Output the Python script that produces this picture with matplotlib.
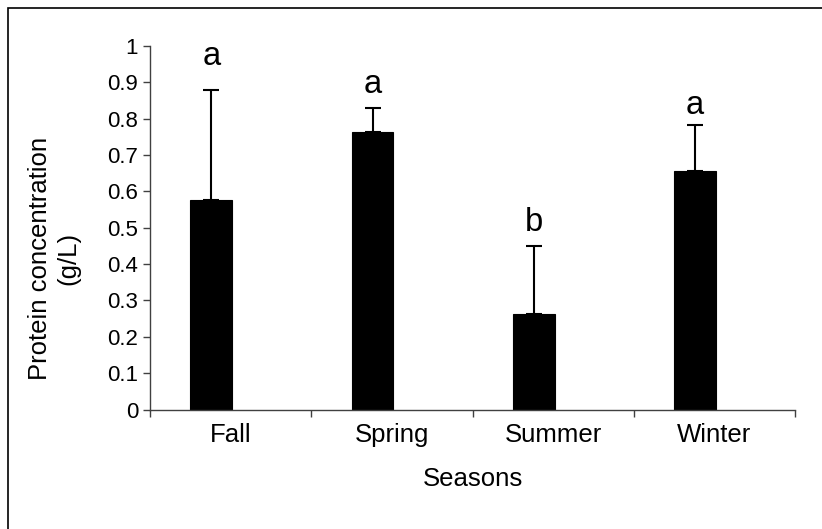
import matplotlib
matplotlib.use("Agg")
import matplotlib.pyplot as plt
from matplotlib.patches import Rectangle
import numpy as np

plt.rcParams["font.family"] = ["Liberation Sans", "DejaVu Sans"]

# datos
seasons = ["Fall", "Spring", "Summer", "Winter"]
protein = [0.577, 0.763, 0.263, 0.655]
err_up = [0.302, 0.066, 0.187, 0.127]
letters = ["a", "a", "b", "a"]
letter_y = [0.972, 0.893, 0.514, 0.836]

W, H = 822, 529
fig = plt.figure(figsize=(W / 100, H / 100), dpi=100)
ax = fig.add_axes([150 / W, 1 - 409.5 / H, 645 / W, 363.5 / H])

x = np.arange(len(seasons))
xb = x - 0.12
ax.bar(xb, protein, width=0.26, color="black", edgecolor="black", linewidth=0.8, zorder=2)
ax.errorbar(xb, protein, yerr=[np.zeros(len(err_up)), err_up], fmt="none",
            ecolor="black", elinewidth=1.5, capsize=5.8, capthick=1.5, zorder=1)
for xi, yi, t in zip(xb, letter_y, letters):
    ax.text(xi, yi, t, ha="center", va="center", fontsize=23.5)

ax.set_xlim(-0.5, 3.5)
ax.set_ylim(0, 1)
ax.set_yticks(np.arange(0, 1.01, 0.1))
ax.set_yticklabels(["0", "0.1", "0.2", "0.3", "0.4", "0.5", "0.6", "0.7", "0.8", "0.9", "1"])
ax.set_xticks(x)
ax.set_xticklabels(seasons, fontsize=18.5)
ax.set_xticks(np.arange(-0.5, 4, 1), minor=True)
ax.tick_params(axis="x", which="major", length=0, pad=10)
ax.tick_params(axis="x", which="minor", length=5, width=1, direction="out", color="#404040")
ax.tick_params(axis="y", length=5, width=1, direction="out", pad=3.6, labelsize=16, color="#404040")
for s in ["top", "right"]:
    ax.spines[s].set_visible(False)
for s in ["left", "bottom"]:
    ax.spines[s].set_color("#404040")
    ax.spines[s].set_linewidth(1)

ax.set_xlabel("Seasons", fontsize=18.5, labelpad=14)
fig.text(54 / W, 1 - 258 / H, "Protein concentration\n(g/L)", rotation=90,
         ha="center", va="center", multialignment="center", fontsize=18.5,
         linespacing=1.25)

# marco exterior (recortado a la derecha y abajo)
fig.patches.append(Rectangle((8 / W, -0.1), 2, 1.1 - 8 / H, transform=fig.transFigure,
                             fill=False, edgecolor="black", linewidth=1.2))

fig.savefig("out.png", dpi=100)
